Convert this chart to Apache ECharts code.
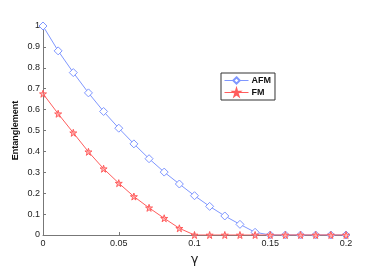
<!DOCTYPE html>
<html>
<head>
<meta charset="utf-8">
<script src="https://cdn.jsdelivr.net/npm/echarts@6/dist/echarts.min.js"></script>
<style>html,body{margin:0;padding:0;background:#fff;}#c{width:382px;height:273px;}</style>
</head>
<body>
<div id="c"></div>
<script>
var gammaValues = [0,0.01,0.02,0.03,0.04,0.05,0.06,0.07,0.08,0.09,0.10,0.11,0.12,0.13,0.14,0.15,0.16,0.17,0.18,0.19,0.20];
var afmValues = [1.0,0.881,0.777,0.680,0.591,0.511,0.436,0.365,0.301,0.244,0.188,0.137,0.091,0.051,0.013,0,0,0,0,0,0];
var fmValues = [0.676,0.580,0.489,0.398,0.317,0.248,0.184,0.130,0.080,0.032,0,0,0,0,0,0,0,0,0,0,0];
var xTickLabels = ['0','0.05','0.1','0.15','0.2'];
var seriesNames = ['AFM','FM'];

var star = 'path://M50,0 L61,35 L98,35 L68,57 L79,91 L50,70 L21,91 L32,57 L2,35 L39,35 Z';
function pairs(xs, ys){ return xs.map(function(x,i){ return [x, ys[i]]; }); }

var chart = echarts.init(document.getElementById('c'));
chart.setOption({
  animation:false,
  backgroundColor:'#fff',
  grid:{left:43,right:36,top:26,bottom:38},
  legend:{
    left:221, top:73, orient:'vertical', itemGap:3, itemWidth:24, itemHeight:8,
    borderColor:'#333', borderWidth:1, padding:[3,4,3,3], backgroundColor:'#fff',
    textStyle:{fontFamily:'Liberation Sans, Arial',fontWeight:'bold',fontSize:9,color:'#111',padding:[0,0,0,-2]},
    lineStyle:{width:1},
    data:[{name:seriesNames[0]},{name:seriesNames[1]}]
  },
  xAxis:{
    type:'value', min:0, max:0.2, interval:0.05,
    name:'γ', nameLocation:'middle', nameGap:16,
    nameTextStyle:{fontFamily:'DejaVu Sans',fontSize:13,color:'#222'},
    axisLine:{show:true,lineStyle:{color:'#777',width:1}},
    axisTick:{show:true,inside:true,length:3,lineStyle:{color:'#777'}},
    axisLabel:{fontFamily:'Liberation Sans, Arial',fontSize:9,color:'#222',margin:4,
      formatter:function(v){ var i=Math.round(v/0.05); return xTickLabels[i]; }},
    splitLine:{show:false}
  },
  yAxis:{
    type:'value', min:0, max:1, interval:0.1,
    name:'Entanglement', nameLocation:'middle', nameGap:23, nameMoveOverlap:false,
    nameTextStyle:{fontFamily:'Liberation Sans, Arial',fontSize:9,fontWeight:'bold',color:'#111'},
    axisLine:{show:true,lineStyle:{color:'#777',width:1}},
    axisTick:{show:true,inside:true,length:3,lineStyle:{color:'#777'}},
    axisLabel:{fontFamily:'Liberation Sans, Arial',fontSize:9,color:'#222',margin:3,
      formatter:function(v){ return String(Math.round(v*10)/10); }},
    splitLine:{show:false}
  },
  series:[
    {name:seriesNames[0], type:'line', data:pairs(gammaValues, afmValues),
     symbol:'diamond', symbolSize:8, showAllSymbol:true, z:2,
     lineStyle:{color:'#7f97ff',width:1},
     itemStyle:{color:'#fff',borderColor:'#7f97ff',borderWidth:1}},
    {name:seriesNames[1], type:'line', data:pairs(gammaValues, fmValues),
     symbol:star, symbolSize:7, showAllSymbol:true, z:3,
     lineStyle:{color:'#ff5c5c',width:1},
     itemStyle:{color:'rgba(255,140,140,0.5)',borderColor:'#ff5c5c',borderWidth:1}}
  ]
});
</script>
</body>
</html>
